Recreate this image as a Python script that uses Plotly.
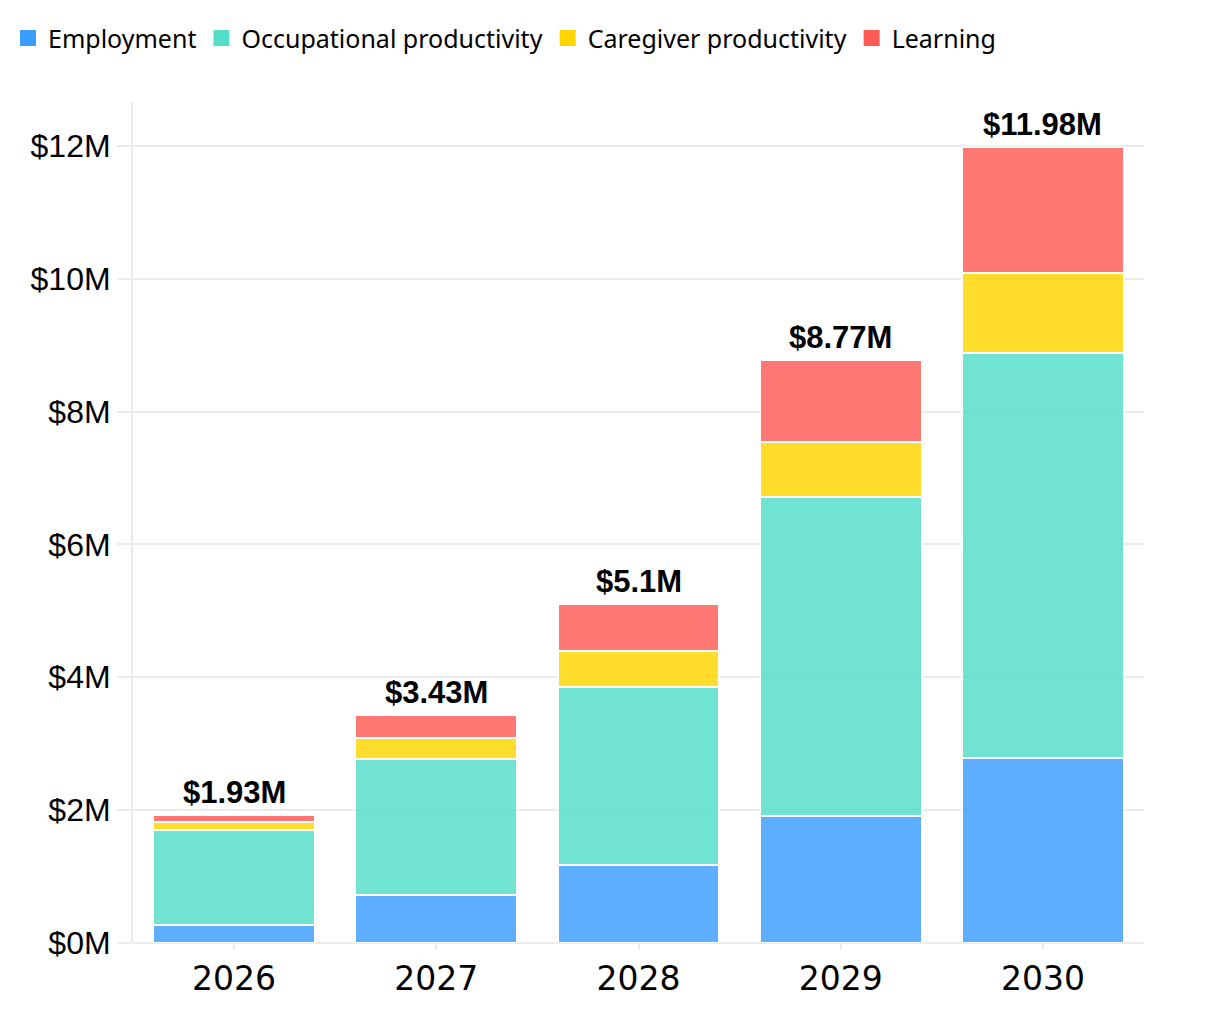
import plotly.graph_objects as go

years = ["2026", "2027", "2028", "2029", "2030"]
employment = [0.27, 0.72, 1.18, 1.91, 2.79]
occupational = [1.43, 2.05, 2.68, 4.80, 6.09]
caregiver = [0.12, 0.32, 0.53, 0.83, 1.21]
learning = [0.11, 0.34, 0.71, 1.23, 1.89]
totals = [1.93, 3.43, 5.10, 8.77, 11.98]
total_labels = ["$1.93M", "$3.43M", "$5.1M", "$8.77M", "$11.98M"]
y_tick_vals = [0, 2, 4, 6, 8, 10, 12]
y_tick_text = ["$0M", "$2M", "$4M", "$6M", "$8M", "$10M", "$12M"]

series = [
    ("Employment", employment, "#3A9DFF"),
    ("Occupational productivity", occupational, "#52DEC9"),
    ("Caregiver productivity", caregiver, "#FFD600"),
    ("Learning", learning, "#FF5A55"),
]

fig = go.Figure()
for name, vals, color in series:
    fig.add_trace(go.Bar(
        x=years, y=vals, name=name, showlegend=False, legendgroup=name,
        marker=dict(color=color, opacity=0.82, line=dict(color="white", width=2)),
    ))
# legend swatches
for name, vals, color in series:
    fig.add_trace(go.Scatter(
        x=[None], y=[None], mode="markers", name=name, legendgroup=name,
        marker=dict(color=color, symbol="square", size=16),
    ))

for i, (tot, lab) in enumerate(zip(totals, total_labels)):
    fig.add_annotation(x=i, y=tot, xref="x", yref="y", text="<b>" + lab + "</b>",
                       showarrow=False, yanchor="bottom", yshift=3,
                       font=dict(family="Liberation Sans", size=31, color="#000"))

fig.update_layout(
    width=1216, height=1022,
    barmode="stack", bargap=0.2,
    plot_bgcolor="white", paper_bgcolor="white",
    margin=dict(l=125, r=80, t=94, b=87),
    legend=dict(orientation="h", x=0.0, xref="container", y=0.993, yref="container",
                xanchor="left", yanchor="top",
                font=dict(family="Noto Sans", size=25, color="#000"),
                itemwidth=30, traceorder="normal"),
    showlegend=True,
)
fig.update_xaxes(type="category", range=[-0.5, 4.5], showgrid=False, ticks="outside", ticklen=6,
                 tickcolor="#ebebeb", tickwidth=2, showline=False,
                 tickfont=dict(family="DejaVu Sans", size=33, color="#000"))
fig.update_yaxes(range=[0, 12.66], tickvals=y_tick_vals, ticktext=y_tick_text,
                 gridcolor="#ebebeb", gridwidth=2, zeroline=True, zerolinecolor="#ebebeb",
                 zerolinewidth=2, showline=True, linecolor="#ebebeb", linewidth=2,
                 ticks="outside", ticklen=14, tickcolor="#ebebeb", tickwidth=2,
                 tickfont=dict(family="Liberation Sans", size=32, color="#000"))

fig.write_html("out.html")
